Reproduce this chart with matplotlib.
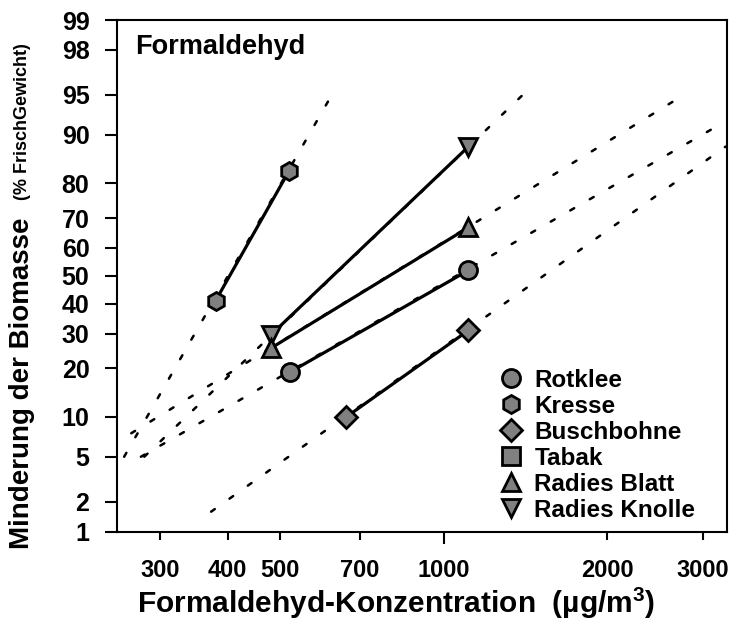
from statistics import NormalDist
import numpy as np
import matplotlib
matplotlib.use('Agg')
import matplotlib.pyplot as plt
from matplotlib.lines import Line2D
from matplotlib.ticker import FixedLocator, NullLocator, FixedFormatter

plt.rcParams['font.family'] = ['Liberation Sans', 'DejaVu Sans']
plt.rcParams['font.weight'] = 'bold'
plt.rcParams['mathtext.fontset'] = 'custom'
plt.rcParams['mathtext.bf'] = 'Liberation Sans:bold'

# Messwerte (Konzentration in ug/m3, Minderung in %)
rotklee_x = [520, 1110]
rotklee_y = [19, 52]
kresse_x = [380, 519]
kresse_y = [41, 83]
busch_x = [662, 1110]
busch_y = [10, 31]
blatt_x = [480, 1110]
blatt_y = [25.5, 67]
knolle_x = [480, 1110]
knolle_y = [29.5, 88]

# Regressionsgeraden (gepunktet), Endpunkte
fit_kresse = ([258, 622], [5, 95])
fit_knolle = ([281, 1397], [5, 95])
fit_blatt = ([226, 2765], [5, 95])
fit_rotklee = ([277, 3300], [5, 92])
fit_busch = ([373, 3300], [1.6, 88])

y_ticks = [1, 2, 5, 10, 20, 30, 40, 50, 60, 70, 80, 90, 95, 98, 99]
x_ticks = [300, 400, 500, 700, 1000, 2000, 3000]
namen = ['Rotklee', 'Kresse', 'Buschbohne', 'Tabak', 'Radies Blatt', 'Radies Knolle']
marker = ['o', 'h', 'D', 's', '^', 'v']

nd = NormalDist()
_ppf = np.vectorize(nd.inv_cdf, otypes=[float])
_cdf = np.vectorize(nd.cdf, otypes=[float])


def probit(p):
    p = np.clip(np.asarray(p, dtype=float) / 100.0, 1e-9, 1 - 1e-9)
    return _ppf(p)


def probit_inv(z):
    return _cdf(np.asarray(z, dtype=float)) * 100.0


fig = plt.figure(figsize=(7.34, 6.24), dpi=100)
ax = fig.add_axes([116.7 / 734, 1 - 531.7 / 624, 610 / 734, 511.7 / 624])
ax.set_xscale('log')
ax.set_yscale('function', functions=(probit, probit_inv))
ax.set_xlim(250, 3316)
ax.set_ylim(1, 99)

punkt = dict(ls=(0, (1.8, 7.2)), color='k', lw=1.8, dash_capstyle='round', zorder=1)
for fx, fy in [fit_kresse, fit_knolle, fit_blatt, fit_rotklee, fit_busch]:
    ax.plot(fx, fy, **punkt)

mk = dict(color='k', lw=2.3, mfc='#808080', mec='k', mew=2, ms=13, zorder=3)
ax.plot(kresse_x, kresse_y, marker='h', **mk)
ax.plot(knolle_x, knolle_y, marker='v', **mk)
ax.plot(blatt_x, blatt_y, marker='^', **mk)
ax.plot(rotklee_x, rotklee_y, marker='o', **mk)
ax.plot(busch_x, busch_y, marker='D', **dict(mk, ms=11.5))

ax.yaxis.set_major_locator(FixedLocator(y_ticks))
ax.yaxis.set_major_formatter(FixedFormatter([str(t) for t in y_ticks]))
ax.yaxis.set_minor_locator(NullLocator())
ax.xaxis.set_major_locator(FixedLocator(x_ticks))
ax.xaxis.set_major_formatter(FixedFormatter([str(t) for t in x_ticks]))
ax.xaxis.set_minor_locator(NullLocator())

for s in ax.spines.values():
    s.set_linewidth(1.5)
ax.tick_params(axis='y', direction='out', length=8.6, width=1.5, pad=11, labelsize=18)
ax.tick_params(axis='x', direction='out', length=5.8, width=1.5, pad=14, labelsize=17)
for t, v in zip(ax.xaxis.get_major_ticks(), x_ticks):
    if v == 1000:
        t.tick1line.set_markersize(8.6)

ax.text(0.03, 0.972, 'Formaldehyd', transform=ax.transAxes, fontsize=19.5,
        fontweight='bold', ha='left', va='top')

handles = [Line2D([], [], ls='none', marker=m, mfc='#808080', mec='k', mew=2,
                  ms=(11.5 if m == 'D' else 13)) for m in marker]
ax.legend(handles, namen, loc='upper left', bbox_to_anchor=(0.627, 0.318),
          frameon=False, handlelength=1.0, handletextpad=0.45,
          labelspacing=0.12, borderaxespad=0, borderpad=0,
          prop={'weight': 'bold', 'size': 17.5})

fig.text(396 / 734, 1 - 621 / 624, r'Formaldehyd-Konzentration  (µg/m$^\mathbf{3}$)',
         ha='center', va='bottom', fontsize=21.5, fontweight='bold')
fig.text(22 / 734, 1 - 549 / 624, 'Minderung der Biomasse', rotation=90,
         ha='center', va='bottom', fontsize=20, fontweight='bold')
fig.text(23 / 734, 1 - 200 / 624, '(% FrischGewicht)', rotation=90,
         ha='center', va='bottom', fontsize=13, fontweight='bold')

fig.savefig('out.png', dpi=100)
